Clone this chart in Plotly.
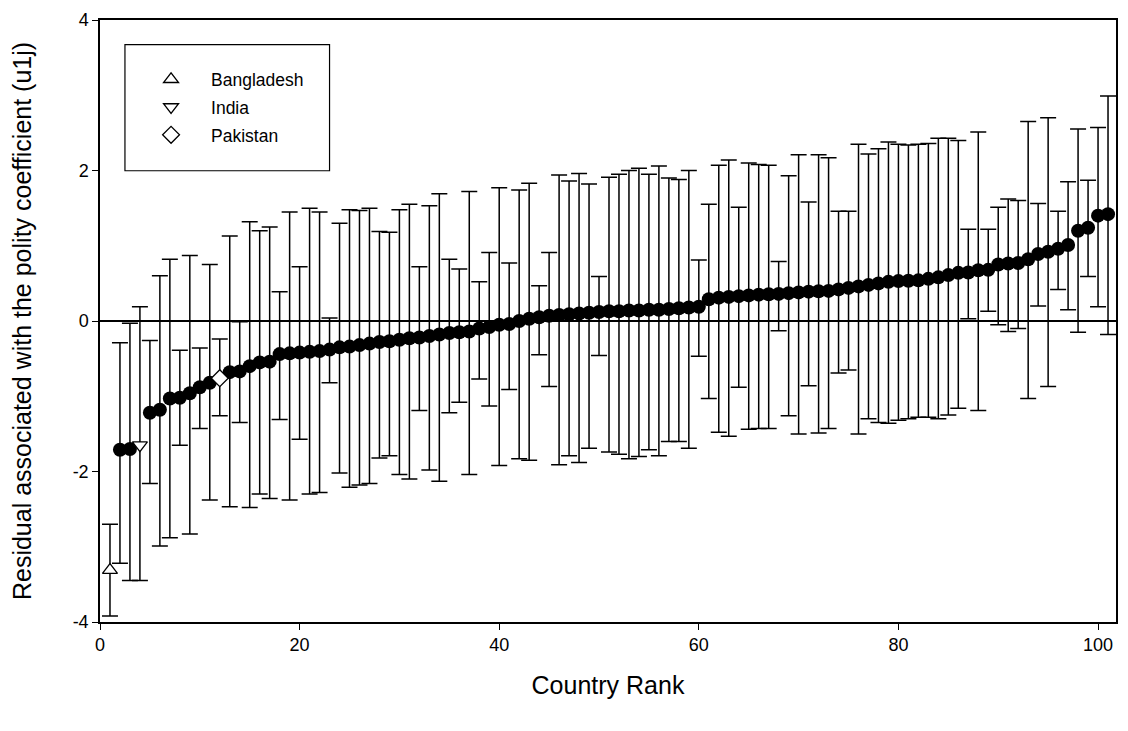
import plotly.graph_objects as go

# ---- data ----
rank = list(range(1, 102))
residual = [-3.31, -1.71, -1.70, -1.65, -1.22, -1.18, -1.03, -1.02, -0.96, -0.88,
            -0.82, -0.76, -0.68, -0.67, -0.60, -0.55, -0.54, -0.44, -0.43, -0.42,
            -0.41, -0.40, -0.38, -0.35, -0.34, -0.32, -0.30, -0.28, -0.27, -0.25,
            -0.23, -0.22, -0.20, -0.18, -0.16, -0.15, -0.14, -0.10, -0.08, -0.05,
            -0.04, 0.00, 0.03, 0.05, 0.07, 0.08, 0.09, 0.10, 0.11, 0.12,
            0.13, 0.13, 0.14, 0.14, 0.15, 0.15, 0.16, 0.17, 0.18, 0.19,
            0.29, 0.31, 0.32, 0.33, 0.34, 0.35, 0.355, 0.36, 0.37, 0.38,
            0.39, 0.395, 0.40, 0.42, 0.44, 0.46, 0.48, 0.50, 0.52, 0.53,
            0.535, 0.54, 0.56, 0.58, 0.61, 0.64, 0.645, 0.675, 0.68, 0.75,
            0.765, 0.77, 0.82, 0.89, 0.92, 0.96, 1.01, 1.20, 1.24, 1.40,
            1.42]
upper = [-2.70, -0.29, -0.03, 0.19, -0.26, 0.60, 0.82, -0.39, 0.87, -0.36,
         0.75, -0.24, 1.13, -0.01, 1.32, 1.20, 1.25, 0.39, 1.45, 0.72,
         1.50, 1.45, 0.04, 1.30, 1.48, 1.47, 1.50, 1.19, 1.18, 1.48,
         1.55, 0.72, 1.53, 1.69, 0.82, 0.69, 1.72, 0.52, 0.91, 1.77,
         0.77, 1.74, 1.83, 0.47, 0.91, 1.94, 1.86, 1.96, 1.82, 0.59,
         1.91, 1.95, 2.00, 2.03, 1.95, 2.06, 1.90, 1.88, 2.00, 0.81,
         1.55, 2.07, 2.14, 1.51, 2.10, 2.08, 2.07, 0.79, 1.93, 2.21,
         1.58, 2.21, 2.17, 1.46, 1.46, 2.35, 2.22, 2.29, 2.38, 2.35,
         2.34, 2.35, 2.36, 2.43, 2.43, 2.40, 1.22, 2.51, 1.22, 1.51,
         1.62, 1.60, 2.65, 1.56, 2.70, 1.46, 1.85, 2.55, 1.87, 2.57,
         2.99]
lower = [-3.92, -3.22, -3.45, -3.45, -2.16, -2.99, -2.88, -1.65, -2.83, -1.43,
         -2.38, -1.26, -2.47, -1.35, -2.48, -2.30, -2.36, -1.31, -2.38, -1.57,
         -2.30, -2.28, -0.82, -2.02, -2.21, -2.18, -2.16, -1.82, -1.79, -2.04,
         -2.10, -1.19, -1.98, -2.13, -1.22, -1.08, -2.04, -0.77, -1.13, -1.92,
         -0.91, -1.83, -1.85, -0.45, -0.87, -1.91, -1.79, -1.88, -1.69, -0.46,
         -1.74, -1.77, -1.83, -1.80, -1.71, -1.79, -1.60, -1.60, -1.69, -0.47,
         -1.03, -1.48, -1.53, -0.88, -1.44, -1.43, -1.43, -0.13, -1.26, -1.50,
         -0.86, -1.49, -1.43, -0.69, -0.65, -1.50, -1.30, -1.35, -1.36, -1.32,
         -1.30, -1.28, -1.28, -1.30, -1.25, -1.16, 0.03, -1.19, 0.13, -0.05,
         -0.14, -0.10, -1.03, 0.20, -0.87, 0.42, 0.15, -0.15, 0.59, 0.19,
         -0.18]

countries = ["Bangladesh", "India", "Pakistan"]
country_rank = [1, 4, 12]

x_ticks = [0, 20, 40, 60, 80, 100]
y_ticks = [-4, -2, 0, 2, 4]
y_tick_text = ["-4", "-2", "0", "2", "4"]

# ---- styles ----
FONT = "Arial, 'Liberation Sans', sans-serif"
symbols = {"Bangladesh": "triangle-up", "India": "triangle-down", "Pakistan": "diamond"}

err_plus = [u - v for u, v in zip(upper, residual)]
err_minus = [v - l for v, l in zip(residual, lower)]

fig = go.Figure()

idx_other = [k for k, r in enumerate(rank) if r not in country_rank]
fig.add_trace(go.Scatter(
    x=[rank[k] for k in idx_other],
    y=[residual[k] for k in idx_other],
    mode="markers",
    marker=dict(symbol="circle", size=14, color="black", line=dict(width=0)),
    error_y=dict(type="data", symmetric=False,
                 array=[err_plus[k] for k in idx_other],
                 arrayminus=[err_minus[k] for k in idx_other],
                 color="black", thickness=1.5, width=8),
    showlegend=False,
))

for name, r in zip(countries, country_rank):
    k = rank.index(r)
    fig.add_trace(go.Scatter(
        x=[r], y=[residual[k]], name=name, legendgroup=name,
        mode="markers",
        marker=dict(symbol=symbols[name], size=13, color="white",
                    line=dict(color="black", width=1.3)),
        error_y=dict(type="data", symmetric=False,
                     array=[err_plus[k]], arrayminus=[err_minus[k]],
                     color="black", thickness=1.5, width=8),
    ))

L, R, T, B = 100, 10, 11, 109
W, H = 1128, 731
pw, ph = W - L - R, H - T - B

fig.update_layout(
    width=W, height=H,
    margin=dict(l=L, r=R, t=T, b=B),
    paper_bgcolor="white", plot_bgcolor="white",
    font=dict(family=FONT, color="black", size=18),
    legend=dict(x=(125 - L) / pw + 0.006, y=1 - (53 - T) / ph,
                xanchor="left", yanchor="top",
                bgcolor="rgba(0,0,0,0)", borderwidth=0,
                font=dict(size=17.5, family=FONT, color="black"),
                itemwidth=70, tracegroupgap=2),
    shapes=[dict(type="rect", xref="paper", yref="paper",
                 x0=(125 - L) / pw, x1=(330 - L) / pw,
                 y0=1 - (164 - T) / ph, y1=1 - (36 - T) / ph,
                 line=dict(color="black", width=1.2), fillcolor="rgba(0,0,0,0)")],
    xaxis=dict(range=[0, 101.8], tickvals=x_ticks, ticks="outside", ticklen=6,
               tickwidth=1.2, tickcolor="black",
               showline=True, linecolor="black", linewidth=1.5, mirror=True,
               showgrid=False, zeroline=False,
               tickfont=dict(size=18, family=FONT, color="black"),
               title=dict(text="Country Rank", font=dict(size=25, family=FONT, color="black"),
                          standoff=22)),
    yaxis=dict(range=[-4, 4], tickvals=y_ticks, ticktext=y_tick_text, ticks="outside",
               ticklen=6, tickwidth=1.2, tickcolor="black",
               showline=True, linecolor="black", linewidth=1.5, mirror=True,
               showgrid=False, zeroline=True, zerolinecolor="black", zerolinewidth=1.5,
               tickfont=dict(size=18, family=FONT, color="black"),
               title=dict(text="Residual associated with the polity coefficient (u1j)",
                          font=dict(size=25, family=FONT, color="black"), standoff=34)),
)

fig.write_html("out.html", config={"displayModeBar": False},
               post_script="document.body.style.margin='0';")
